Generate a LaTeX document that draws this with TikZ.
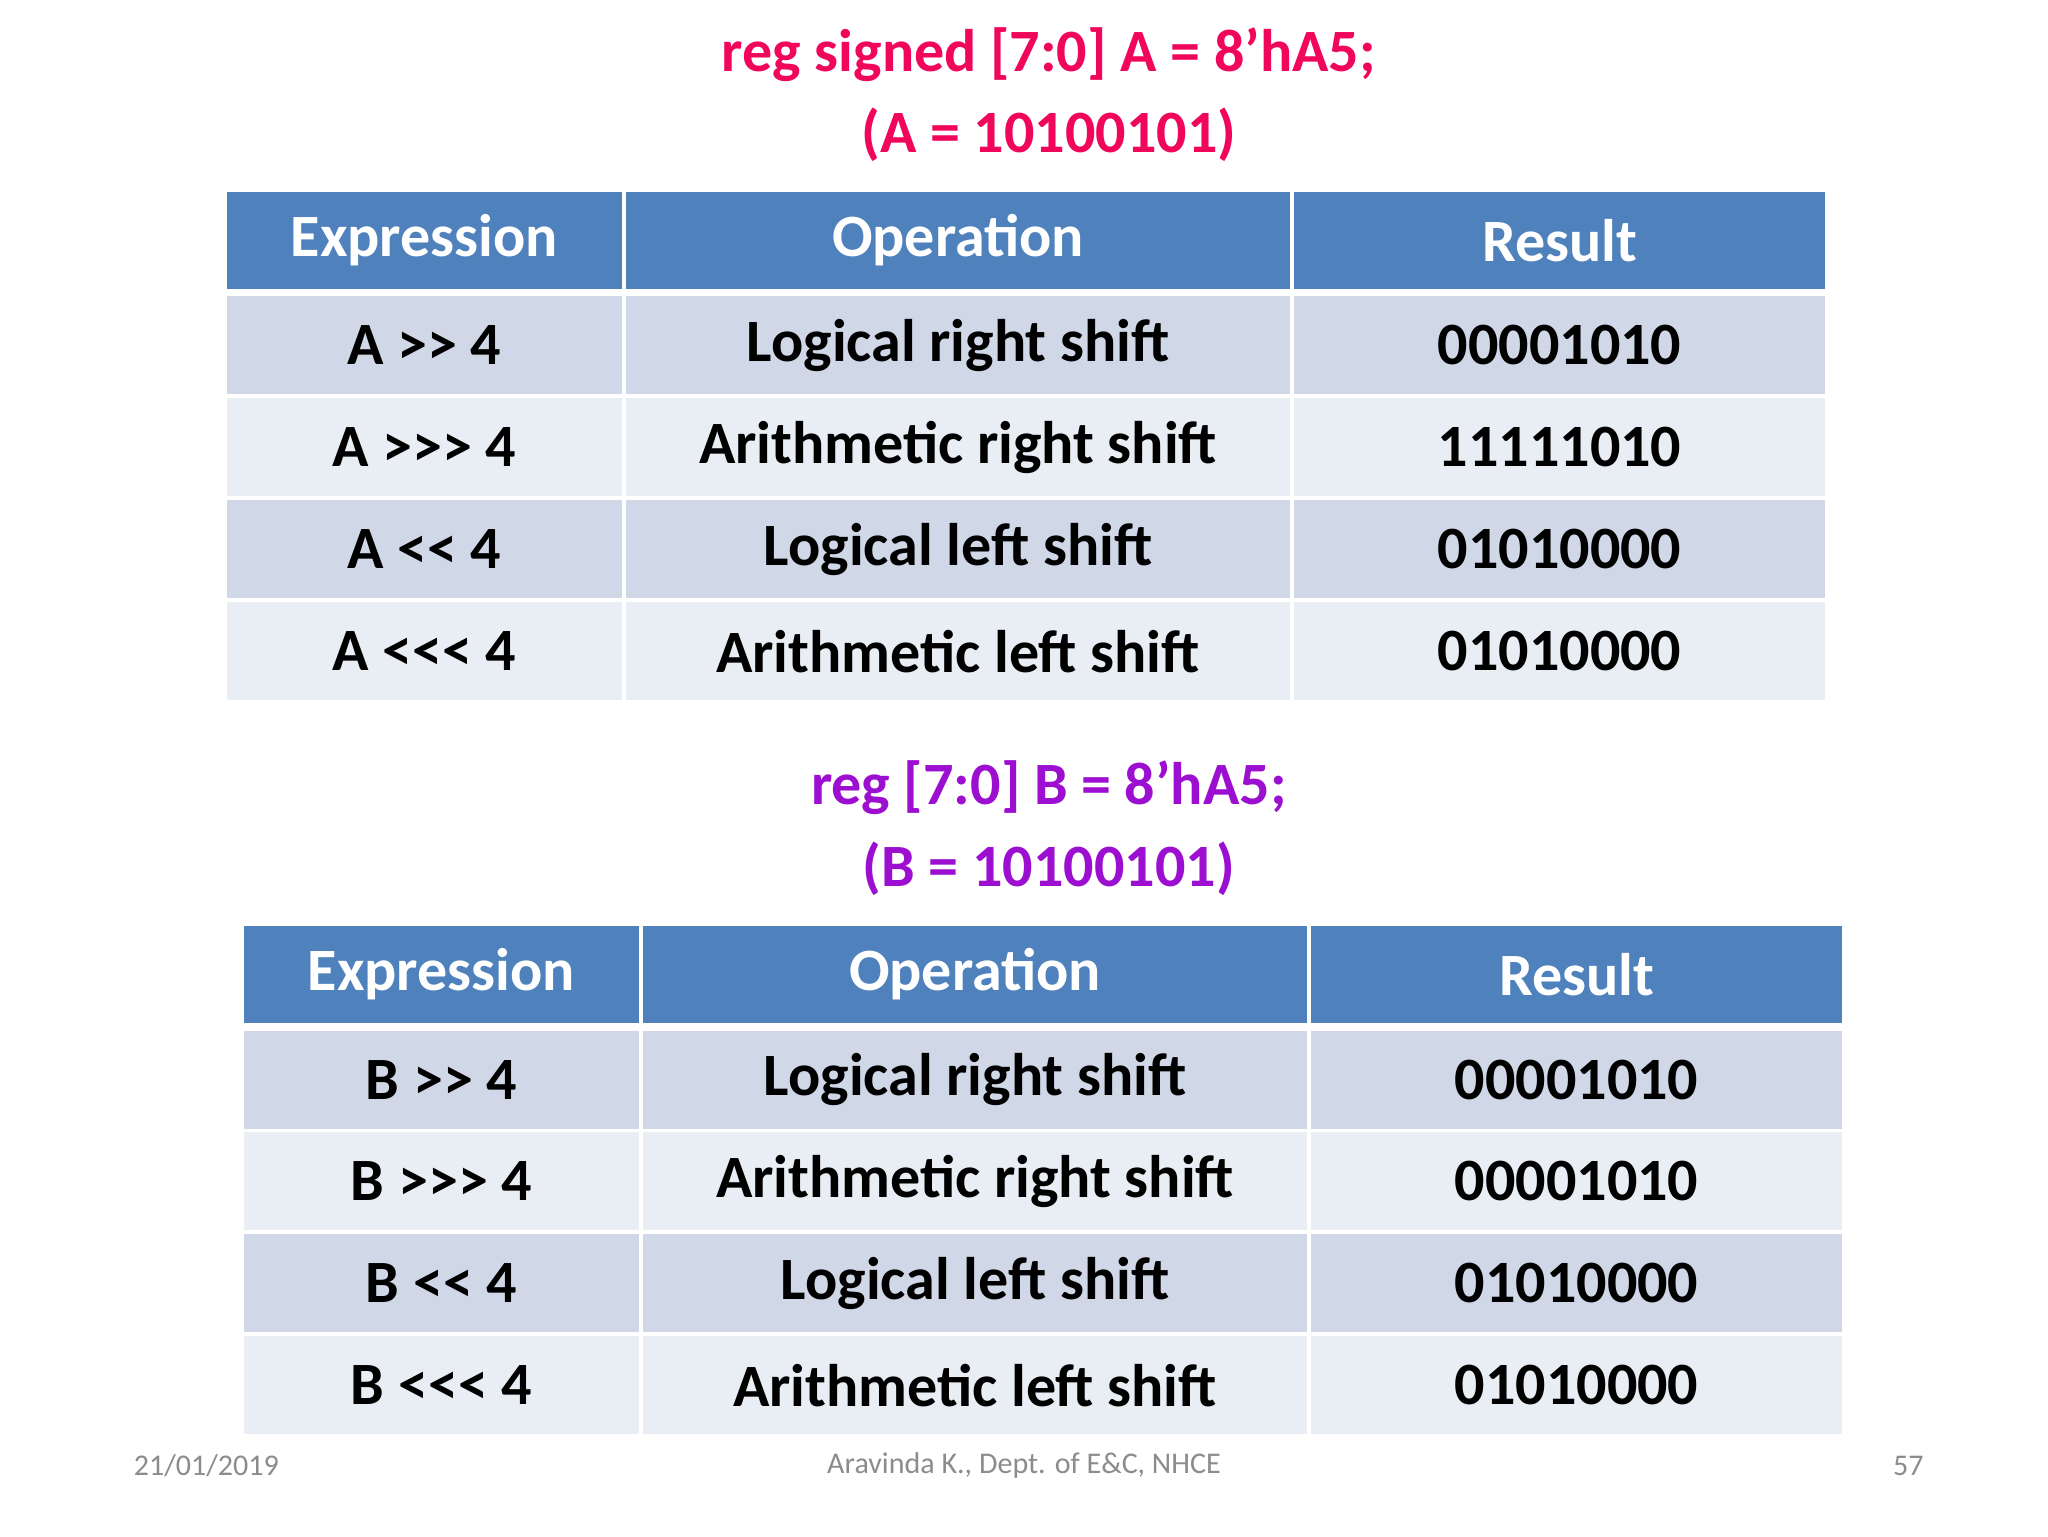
\documentclass[tikz,border=0pt]{standalone}
\usepackage{fontspec}
\setmainfont{Carlito}
\definecolor{hdr}{HTML}{4F81BD}
\definecolor{rowa}{HTML}{D0D8E8}
\definecolor{rowb}{HTML}{E9EDF4}
\definecolor{tpink}{HTML}{F0065A}
\definecolor{tpurp}{HTML}{9C0FD0}
\definecolor{foot}{HTML}{8C8C8C}
\begin{document}
\begin{tikzpicture}[x=1pt,y=-1pt,
  cell/.style={draw=white,line width=3pt,inner sep=0pt,font=\fontsize{46}{50}\selectfont\bfseries},
  hcell/.style={cell,fill=hdr,text=white},
  acell/.style={cell,fill=rowa,text=black},
  bcell/.style={cell,fill=rowb,text=black},
  ttl/.style={font=\fontsize{46}{50}\selectfont\bfseries},
  ft/.style={font=\fontsize{23}{26}\selectfont,text=foot}]
\useasboundingbox[fill=white] (0,0) rectangle (1568,1176);
\node[ttl,text=tpink] (t1a) at (803,42) {reg signed [7:0] A = 8’hA5;};
\node[ttl,text=tpink] (t1b) at (803,103) {(A = 10100101)};
\node[ttl,text=tpurp] (t2a) at (803,603) {reg [7:0] B = 8’hA5;};
\node[ttl,text=tpurp] (t2b) at (803,665) {(B = 10100101)};
\newcommand{\mktable}[6]{%
 % #1 x0, #2 y0, #3 letter, #4 r2, #5 prefix, #6 unused
 \def\xa{#1}\def\yb{#2}
 \foreach \cx/\cw/\txt [count=\ci] in {0/305/Expression,305/512/Operation,817/409/Result}{
   \node[hcell,minimum width=\cw,minimum height=77,anchor=north west] (#5h\ci) at (\xa+\cx,\yb) {\txt};}
 \foreach \e/\o/\r/\st [count=\ri] in {{#3 >{}> 4}/Logical right shift/00001010/acell,
     {#3 >{}>{}> 4}/Arithmetic right shift/#4/bcell,
     {#3 <{}< 4}/Logical left shift/01010000/acell,
     {#3 <{}<{}< 4}/Arithmetic left shift/01010000/bcell}{
   \node[\st,minimum width=305,minimum height=78,anchor=north west] (#5e\ri) at (\xa,\yb+78*\ri+2) {\e};
   \node[\st,minimum width=512,minimum height=78,anchor=north west] (#5o\ri) at (\xa+305,\yb+78*\ri+2) {\o};
   \node[\st,minimum width=409,minimum height=78,anchor=north west] (#5r\ri) at (\xa+817,\yb+78*\ri+2) {\r};}
}
\mktable{171}{144}{A}{11111010}{p}{}
\mktable{184}{706}{B}{00001010}{q}{}
\node[ft] (f1) at (158,1122) {21/01/2019};
\node[ft] (f2) at (784,1122) {Aravinda K., Dept. of E\&C, NHCE};
\node[ft] (f3) at (1461,1122) {57};
\end{tikzpicture}
\end{document}
